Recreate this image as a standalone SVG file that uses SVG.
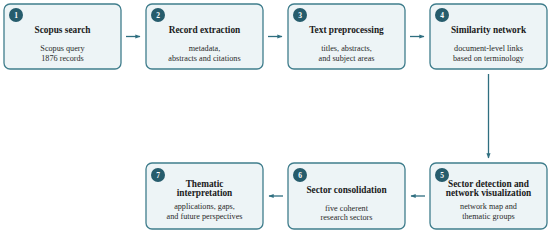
<svg xmlns="http://www.w3.org/2000/svg" width="550" height="233" viewBox="0 0 550 233">
<style>
.box{fill:#edf4f6;stroke:#3f7d8c;stroke-width:1.3}
.badge{fill:#265c6c}
text{font-family:'Liberation Serif','DejaVu Serif','Times New Roman',serif;text-anchor:middle}
.num{font-weight:bold;font-size:7.5px;fill:#ffffff}
.title{font-weight:bold;font-size:9.3px;fill:#1a1a1a}
.sub{font-size:8.2px;fill:#2a2a2a}
.conn{stroke:#2f6f80;stroke-width:1.3;fill:none;marker-end:url(#ah)}
</style>
<defs>
<marker id="ah" viewBox="0 0 10 10" refX="9" refY="5" markerWidth="4" markerHeight="4" orient="auto" markerUnits="strokeWidth">
<path d="M0,1 L10,5 L0,9 Z" fill="#2f6f80"/>
</marker>
</defs>
<rect width="550" height="233" fill="#ffffff"/>
<g id="connectors">
<line class="conn" x1="126" y1="36.5" x2="140" y2="36.5"/>
<line class="conn" x1="268" y1="36.5" x2="282" y2="36.5"/>
<line class="conn" x1="410" y1="36.5" x2="424" y2="36.5"/>
<line class="conn" x1="488.5" y1="74" x2="488.5" y2="158"/>
<line class="conn" x1="425" y1="196" x2="411" y2="196"/>
<line class="conn" x1="283" y1="196" x2="269" y2="196"/>
</g>
<g id="node1">
<rect class="box" x="4" y="4" width="117" height="65" rx="6"/>
<circle class="badge" cx="16" cy="15" r="7"/>
<text class="num" x="16" y="17.7">1</text>
<text class="title" x="62.5" y="32.5">Scopus search</text>
<text class="sub" x="62.5" y="51">Scopus query</text>
<text class="sub" x="62.5" y="60.5">1876 records</text>
</g>
<g id="node2">
<rect class="box" x="146" y="4" width="117" height="65" rx="6"/>
<circle class="badge" cx="158" cy="15" r="7"/>
<text class="num" x="158" y="17.7">2</text>
<text class="title" x="204.5" y="32.5">Record extraction</text>
<text class="sub" x="204.5" y="51">metadata,</text>
<text class="sub" x="204.5" y="60.5">abstracts and citations</text>
</g>
<g id="node3">
<rect class="box" x="288" y="4" width="117" height="65" rx="6"/>
<circle class="badge" cx="300" cy="15" r="7"/>
<text class="num" x="300" y="17.7">3</text>
<text class="title" x="346.5" y="32.5">Text preprocessing</text>
<text class="sub" x="346.5" y="51">titles, abstracts,</text>
<text class="sub" x="346.5" y="60.5">and subject areas</text>
</g>
<g id="node4">
<rect class="box" x="430" y="4" width="117" height="65" rx="6"/>
<circle class="badge" cx="442" cy="15" r="7"/>
<text class="num" x="442" y="17.7">4</text>
<text class="title" x="488.5" y="32.5">Similarity network</text>
<text class="sub" x="488.5" y="51">document-level links</text>
<text class="sub" x="488.5" y="60.5">based on terminology</text>
</g>
<g id="node5">
<rect class="box" x="430" y="163" width="117" height="66" rx="6"/>
<circle class="badge" cx="442" cy="175" r="7"/>
<text class="num" x="442" y="177.7">5</text>
<text class="title" x="488.5" y="187">Sector detection and</text>
<text class="title" x="488.5" y="195.5">network visualization</text>
<text class="sub" x="488.5" y="209">network map and</text>
<text class="sub" x="488.5" y="218.5">thematic groups</text>
</g>
<g id="node6">
<rect class="box" x="288" y="163" width="117" height="66" rx="6"/>
<circle class="badge" cx="300" cy="175" r="7"/>
<text class="num" x="300" y="177.7">6</text>
<text class="title" x="346.5" y="192.5">Sector consolidation</text>
<text class="sub" x="346.5" y="211">five coherent</text>
<text class="sub" x="346.5" y="220">research sectors</text>
</g>
<g id="node7">
<rect class="box" x="146" y="163" width="117" height="66" rx="6"/>
<circle class="badge" cx="158" cy="175" r="7"/>
<text class="num" x="158" y="177.7">7</text>
<text class="title" x="204.5" y="187">Thematic</text>
<text class="title" x="204.5" y="195.5">interpretation</text>
<text class="sub" x="204.5" y="209">applications, gaps,</text>
<text class="sub" x="204.5" y="218.5">and future perspectives</text>
</g>
</svg>
